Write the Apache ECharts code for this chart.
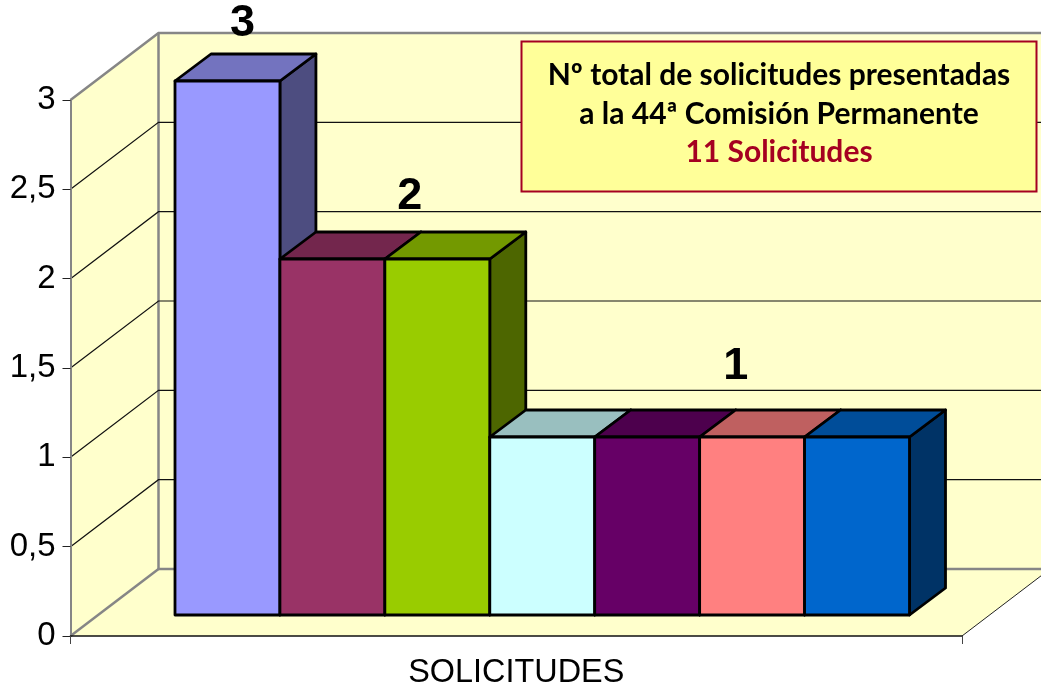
<!DOCTYPE html>
<html>
<head>
<meta charset="utf-8">
<style>
  html, body { margin: 0; padding: 0; background: #fff; }
  #chart { width: 1041px; height: 688px; }
</style>
</head>
<body>
<div id="chart"></div>
<script src="https://cdn.jsdelivr.net/npm/echarts@6/dist/echarts.min.js"></script>
<script>
  // datos
  const axisCategory = ['SOLICITUDES'];
  const yTicks = [0, 0.5, 1, 1.5, 2, 2.5, 3];
  const barNames = ['a', 'b', 'c', 'd', 'e', 'f', 'g'];
  const barValues = [3, 2, 2, 1, 1, 1, 1];
  const barColors = ['#9999FF', '#993366', '#99CC00', '#CCFFFF', '#660066', '#FF8080', '#0066CC'];
  const topColors = ['#7373BF', '#73264D', '#739900', '#99BFBF', '#4D004D', '#BF6060', '#004D99'];
  const sideColors = ['#4D4D80', '#4D1A33', '#4D6600', '#668080', '#330033', '#804040', '#003366'];
  const labelBars = [0, 1, 3];
  const labelValues = [3, 2, 1];
  const boxLines = ['Nº total de solicitudes presentadas', 'a la 44ª Comisión Permanente', '11 Solicitudes'];

  // perspectiva: fondo de las paredes y profundidad de las barras
  const WALL_DX = 88, WALL_DY = 67;
  const BAR_DX = 36, BAR_DY = 27;
  const LABEL_OFFSET = [[15, -57], [25, -62], [36, -70]];
  const GRAY = '#868686';

  function renderWalls(params, api) {
    const cs = params.coordSys;
    const l = cs.x, r = cs.x + cs.width;
    const top = api.coord([0, 3])[1], bot = api.coord([0, 0])[1];
    const edge = function (pts, w, c) {
      return { type: 'polyline', shape: { points: pts }, style: { fill: null, stroke: c || GRAY, lineWidth: w || 2.5 } };
    };
    return {
      type: 'group',
      children: [
        // pared izquierda, fondo y suelo
        { type: 'polygon', shape: { points: [[l, top], [l + WALL_DX, top - WALL_DY], [l + WALL_DX, bot - WALL_DY], [l, bot]] }, style: { fill: '#FFFFCC' } },
        { type: 'polygon', shape: { points: [[l + WALL_DX, top - WALL_DY], [r + WALL_DX, top - WALL_DY], [r + WALL_DX, bot - WALL_DY], [l + WALL_DX, bot - WALL_DY]] }, style: { fill: '#FFFFCC' } },
        { type: 'polygon', shape: { points: [[l, bot], [r, bot], [r + WALL_DX, bot - WALL_DY], [l + WALL_DX, bot - WALL_DY]] }, style: { fill: '#FFFFCC' } },
        edge([[l, top], [l + WALL_DX, top - WALL_DY], [r + WALL_DX, top - WALL_DY]]),
        edge([[l + WALL_DX, top - WALL_DY], [l + WALL_DX, bot - WALL_DY], [r + WALL_DX, bot - WALL_DY]]),
        edge([[l, bot], [l + WALL_DX, bot - WALL_DY]]),
        edge([[r, bot], [r + WALL_DX, bot - WALL_DY]], 1, '#222')
      ]
    };
  }

  function renderGridLine(params, api) {
    const cs = params.coordSys;
    const l = cs.x, r = cs.x + cs.width;
    const y = api.coord([0, api.value(1)])[1];
    return {
      type: 'polyline',
      shape: { points: [[l, y], [l + WALL_DX, y - WALL_DY], [r + WALL_DX, y - WALL_DY]] },
      style: { fill: null, stroke: '#111', lineWidth: 1.2 }
    };
  }

  function renderBar(params, api) {
    const i = api.value(0);
    const p = api.coord([i, api.value(1)]);
    const base = api.coord([i, 0])[1];
    const w = api.size([1, 0])[0];
    const x0 = p[0] - w / 2, x1 = p[0] + w / 2, y = p[1];
    const line = { stroke: '#000', lineWidth: 2.8, lineJoin: 'round' };
    return {
      type: 'group',
      children: [
        { type: 'polygon', shape: { points: [[x1, y], [x1 + BAR_DX, y - BAR_DY], [x1 + BAR_DX, base - BAR_DY], [x1, base]] }, style: Object.assign({ fill: sideColors[i] }, line) },
        { type: 'polygon', shape: { points: [[x0, y], [x0 + BAR_DX, y - BAR_DY], [x1 + BAR_DX, y - BAR_DY], [x1, y]] }, style: Object.assign({ fill: topColors[i] }, line) },
        { type: 'rect', shape: { x: x0, y: y, width: x1 - x0, height: base - y }, style: Object.assign({ fill: barColors[i] }, line) }
      ]
    };
  }

  function renderLabel(params, api) {
    const i = api.value(0);
    const p = api.coord([i, api.value(1)]);
    const w = api.size([1, 0])[0];
    const off = LABEL_OFFSET[params.dataIndex];
    return {
      type: 'text',
      style: {
        x: p[0] - w / 2 + (params.dataIndex === 0 ? w / 2 : params.dataIndex === 1 ? w : 2 * w) + off[0],
        y: p[1] + off[1],
        text: String(api.value(1)),
        align: 'center',
        verticalAlign: 'middle',
        fill: '#000',
        font: 'bold 45px "Liberation Sans", Arial, sans-serif'
      }
    };
  }

  const option = {
    backgroundColor: '#fff',
    animation: false,
    grid: [
      // sin esto ECharts 6 encoge el grid para que quepan las etiquetas
      { left: 70.5, top: 100, width: 891.5, height: 536, outerBoundsMode: 'none' },
      { left: 175, top: 81, width: 734.5, height: 534, outerBoundsMode: 'none' }
    ],
    xAxis: [
      {
        type: 'category',
        gridIndex: 0,
        data: axisCategory,
        z: 3,
        axisLine: { lineStyle: { color: '#111', width: 1.5 } },
        axisTick: { show: true, length: 8, lineStyle: { color: '#444', width: 1 } },
        axisLabel: { color: '#000', fontSize: 32.4, fontFamily: 'Liberation Sans', margin: 21 }
      },
      {
        type: 'category',
        gridIndex: 1,
        data: barNames,
        axisLine: { show: false },
        axisTick: { show: false },
        axisLabel: { show: false }
      }
    ],
    yAxis: [
      {
        type: 'value',
        gridIndex: 0,
        min: 0,
        max: 3,
        interval: 0.5,
        z: 3,
        splitLine: { show: false },
        axisLine: { show: true, lineStyle: { color: GRAY, width: 2 } },
        axisTick: { show: true, length: 8, lineStyle: { color: '#222', width: 1 } },
        axisLabel: {
          color: '#000',
          fontSize: 33,
          fontFamily: 'Liberation Sans',
          margin: 15,
          padding: [6, 0, 0, 0],
          formatter: function (v) { return String(v).replace('.', ','); }
        }
      },
      {
        type: 'value',
        gridIndex: 1,
        min: 0,
        max: 3,
        interval: 0.5,
        splitLine: { show: false },
        axisLine: { show: false },
        axisTick: { show: false },
        axisLabel: { show: false }
      }
    ],
    series: [
      {
        type: 'custom',
        xAxisIndex: 0,
        yAxisIndex: 0,
        z: 1,
        clip: false,
        silent: true,
        data: [[0, 3]],
        renderItem: renderWalls
      },
      {
        type: 'custom',
        xAxisIndex: 0,
        yAxisIndex: 0,
        z: 2,
        clip: false,
        silent: true,
        // las lineas de 0 y 3 ya son los bordes de las paredes
        data: yTicks.slice(1, -1).map(function (v) { return [0, v]; }),
        renderItem: renderGridLine
      },
      {
        type: 'custom',
        xAxisIndex: 1,
        yAxisIndex: 1,
        z: 4,
        clip: false,
        data: barValues.map(function (v, i) { return [i, v]; }),
        renderItem: renderBar
      },
      {
        type: 'custom',
        xAxisIndex: 1,
        yAxisIndex: 1,
        z: 5,
        clip: false,
        data: labelValues.map(function (v, i) { return [labelBars[i], v]; }),
        renderItem: renderLabel
      }
    ],
    graphic: [
      {
        type: 'rect',
        z: 10,
        shape: { x: 521.5, y: 41.5, width: 515, height: 150 },
        style: { fill: '#FFFF99', stroke: '#A50021', lineWidth: 2 }
      },
      {
        type: 'text',
        z: 11,
        x: 779,
        y: 75,
        style: { text: boxLines[0], align: 'center', verticalAlign: 'middle', fill: '#000', font: 'bold 30px Lato, sans-serif' }
      },
      {
        type: 'text',
        z: 11,
        x: 779,
        y: 114,
        style: { text: boxLines[1], align: 'center', verticalAlign: 'middle', fill: '#000', font: 'bold 30px Lato, sans-serif' }
      },
      {
        type: 'text',
        z: 11,
        x: 779,
        y: 152,
        style: { text: boxLines[2], align: 'center', verticalAlign: 'middle', fill: '#A50021', font: 'bold 30px Lato, sans-serif' }
      }
    ]
  };

  const myChart = echarts.init(document.getElementById('chart'));
  myChart.setOption(option);
</script>
</body>
</html>
